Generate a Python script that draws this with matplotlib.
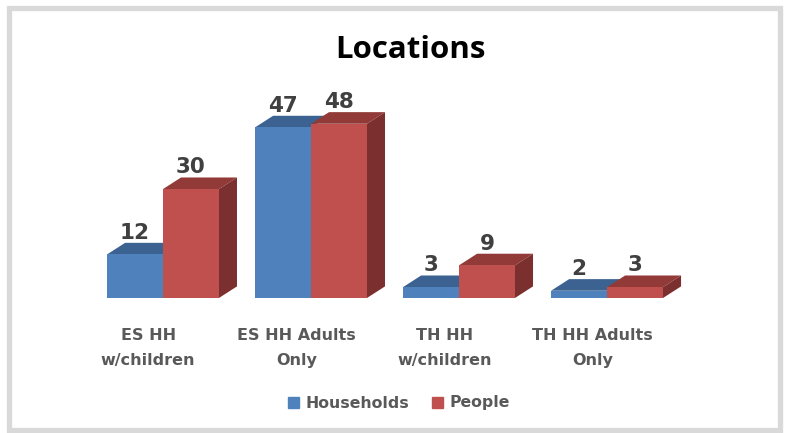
import matplotlib.pyplot as plt
from matplotlib.patches import Polygon, Rectangle, Patch
from matplotlib import transforms

plt.rcParams['font.family'] = ['DejaVu Sans']

categories = ['ES HH\nw/children', 'ES HH Adults\nOnly', 'TH HH\nw/children', 'TH HH Adults\nOnly']
households = [12, 47, 3, 2]
people = [30, 48, 9, 3]

W, H = 788, 433
bar_w = 0.378
dx = 0.122   # 3d depth, x
dy = 3.2     # 3d depth, in value units

blue_front, blue_top = '#4f81bd', '#3b6290'
red_front, red_top, red_side = '#c0504d', '#913a37', '#7b2f2e'

fig = plt.figure(figsize=(W / 100, H / 100), dpi=100)
ax = fig.add_axes([90 / W, (H - 298) / H, 610 / W, 213 / H])
ax.set_xlim(-0.493, 3.628)
ax.set_ylim(0, 213 / 3.63)
ax.axis('off')


def draw_bar(x0, v, front, top, side=None):
    x1 = x0 + bar_w
    ax.add_patch(Polygon([(x0, v), (x1, v), (x1 + dx, v + dy), (x0 + dx, v + dy)],
                         closed=True, facecolor=top, edgecolor='none'))
    if side is not None:
        ax.add_patch(Polygon([(x1, 0), (x1 + dx, dy), (x1 + dx, v + dy), (x1, v)],
                             closed=True, facecolor=side, edgecolor='none'))
    ax.bar(x0, v, width=bar_w, align='edge', color=front, edgecolor='none')
    ax.text(x0 + bar_w / 2, v + dy, str(v), ha='center', va='bottom',
            fontsize=15.5, fontweight='bold', color='#404040')


for i in range(len(categories)):
    draw_bar(i - bar_w, households[i], blue_front, blue_top)
    draw_bar(i, people[i], red_front, red_top, red_side)

# category labels, one line at a time (line centres at 334 and 359 px)
trans = transforms.blended_transform_factory(ax.transData, ax.transAxes)
for i, cat in enumerate(categories):
    for j, line in enumerate(cat.split('\n')):
        ypix = 335 + 25 * j
        ax.text(i - 0.1, (298 - ypix) / 213, line, transform=trans, ha='center', va='center',
                fontsize=11.5, fontweight='bold', color='#595959')

fig.text(411 / W, 1 - 58 / H, 'Locations', ha='center', va='baseline',
         fontsize=22.5, fontweight='bold', color='black', family='Open Sans')

handles = [Patch(color=blue_front, label='Households'), Patch(color=red_front, label='People')]
fig.legend(handles=handles, loc='center', bbox_to_anchor=(399 / W, 1 - 403 / H), ncol=2,
           frameon=False, handlelength=0.7, handleheight=0.7, handletextpad=0.45,
           columnspacing=1.4, prop={'size': 11.3, 'weight': 'bold'}, labelcolor='#595959')

fig.patches.append(Rectangle((9 / W, 1 - 429.5 / H), 771 / W, 421.5 / H,
                             transform=fig.transFigure, fill=False,
                             edgecolor='#d9d9d9', linewidth=3.8))

fig.savefig('out.png', dpi=100, facecolor='white')
